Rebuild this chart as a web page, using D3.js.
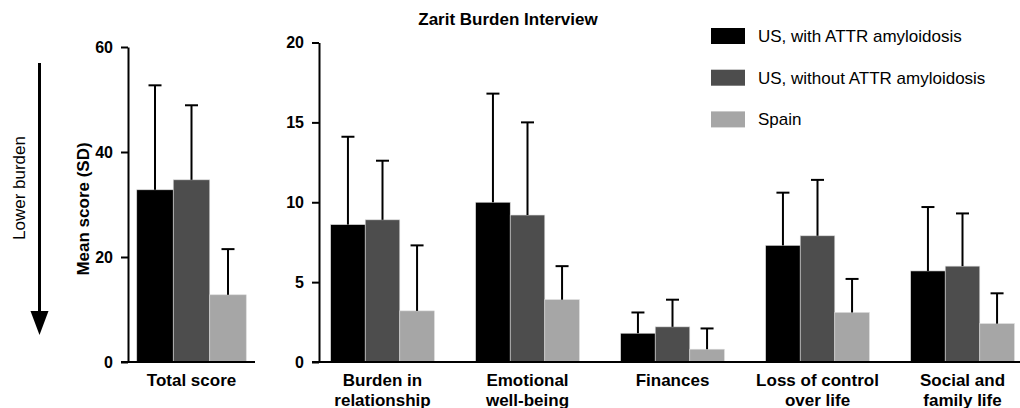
<!DOCTYPE html>
<html>
<head>
<meta charset="utf-8">
<script src="https://cdn.jsdelivr.net/npm/d3@7"></script>
<style>
  body { margin: 0; background: #fff; }
  svg { display: block; font-family: "Liberation Sans", Arial, sans-serif; }
  .tick text { font-weight: bold; font-size: 16px; fill: #000; }
</style>
</head>
<body>
<div class="chart"></div>
<script>
// series + data
var series = ["US, with ATTR amyloidosis", "US, without ATTR amyloidosis", "Spain"];
var colors = ["#000000", "#4d4d4d", "#a6a6a6"];

var totalCat = ["Total score"];
var totalMean = [[32.8], [34.7], [12.8]];
var totalSD = [[19.9], [14.2], [8.7]];

var domains = ["Burden in relationship", "Emotional well-being", "Finances", "Loss of control over life", "Social and family life"];
var domainLines = [["Burden in", "relationship"], ["Emotional", "well-being"], ["Finances"], ["Loss of control", "over life"], ["Social and", "family life"]];
var domainMean = [
  [8.6, 10.0, 1.8, 7.3, 5.7],
  [8.9, 9.2, 2.2, 7.9, 6.0],
  [3.2, 3.9, 0.8, 3.1, 2.4]
];
var domainSD = [
  [5.5, 6.8, 1.3, 3.3, 4.0],
  [3.7, 5.8, 1.7, 3.5, 3.3],
  [4.1, 2.1, 1.3, 2.1, 1.9]
];

var leftTicks = [0, 20, 40, 60];
var rightTicks = [0, 5, 10, 15, 20];

var W = 1020, H = 408;

var svg = d3.select(".chart").append("svg")
    .attr("width", W)
    .attr("height", H);

function drawPanel(cats, lines, means, sds, yMax, ticks, axisX, xRange, yRange, axisEnd) {
    var x0 = d3.scaleBand().domain(cats).range(xRange);
    if (cats.length > 1) x0.paddingInner(0.285).paddingOuter(0.1425);
    else x0.paddingOuter(0.08);
    var x1 = d3.scaleBand().domain(d3.range(series.length)).range([0, x0.bandwidth()]);
    var y = d3.scaleLinear().domain([0, yMax]).range(yRange);

    var g = svg.append("g");

    // bars
    series.forEach(function(s, si) {
        var rows = cats.map(function(c, ci) {
            return {cat: c, m: means[si][ci], sd: sds[si][ci]};
        });
        var sg = g.append("g");
        sg.selectAll("rect")
            .data(rows)
            .enter().append("rect")
            .attr("x", function(d) { return x0(d.cat) + x1(si); })
            .attr("y", function(d) { return y(d.m); })
            .attr("width", x1.bandwidth())
            .attr("height", function(d) { return y(0) - y(d.m); })
            .attr("fill", colors[si])
            .attr("stroke", "#d9d9d9")
            .attr("stroke-width", 0.6);
        // upper error bars
        sg.selectAll(".err")
            .data(rows)
            .enter().append("line")
            .attr("class", "err")
            .attr("x1", function(d) { return x0(d.cat) + x1(si) + x1.bandwidth() / 2; })
            .attr("x2", function(d) { return x0(d.cat) + x1(si) + x1.bandwidth() / 2; })
            .attr("y1", function(d) { return y(d.m); })
            .attr("y2", function(d) { return y(d.m + d.sd); })
            .attr("stroke", "#000")
            .attr("stroke-width", 2);
        sg.selectAll(".cap")
            .data(rows)
            .enter().append("line")
            .attr("class", "cap")
            .attr("x1", function(d) { return x0(d.cat) + x1(si) + x1.bandwidth() / 2 - 6.5; })
            .attr("x2", function(d) { return x0(d.cat) + x1(si) + x1.bandwidth() / 2 + 6.5; })
            .attr("y1", function(d) { return y(d.m + d.sd); })
            .attr("y2", function(d) { return y(d.m + d.sd); })
            .attr("stroke", "#000")
            .attr("stroke-width", 2);
    });

    // y axis
    var yAxis = d3.axisLeft(y).tickValues(ticks).tickSize(7).tickSizeOuter(0).tickPadding(8);
    var ya = g.append("g")
        .attr("transform", "translate(" + axisX + ",0)")
        .call(yAxis);
    ya.selectAll("line, path").attr("stroke", "#000").attr("stroke-width", 2);

    // x axis baseline
    g.append("line")
        .attr("x1", axisX - 7)
        .attr("x2", axisEnd)
        .attr("y1", y(0))
        .attr("y2", y(0))
        .attr("stroke", "#000")
        .attr("stroke-width", 2);

    // category labels
    cats.forEach(function(c, ci) {
        var t = g.append("text")
            .attr("x", x0(c) + x0.bandwidth() / 2)
            .attr("y", y(0) + 24)
            .attr("text-anchor", "middle")
            .attr("font-weight", "bold")
            .attr("font-size", "17px");
        lines[ci].forEach(function(l, li) {
            t.append("tspan")
                .attr("x", x0(c) + x0.bandwidth() / 2)
                .attr("dy", li === 0 ? 0 : 20)
                .text(l);
        });
    });
    return y;
}

drawPanel(totalCat, [["Total score"]], totalMean, totalSD, 60, leftTicks, 128, [128, 255], [362, 47], 255);
drawPanel(domains, domainLines, domainMean, domainSD, 20, rightTicks, 319, [310, 1035], [362, 42.5], 1020);

// title
svg.append("text")
    .attr("x", 508)
    .attr("y", 25)
    .attr("text-anchor", "middle")
    .attr("font-weight", "bold")
    .attr("font-size", "17px")
    .text("Zarit Burden Interview");

// y axis title
svg.append("text")
    .attr("transform", "translate(89,209) rotate(-90)")
    .attr("text-anchor", "middle")
    .attr("font-weight", "bold")
    .attr("font-size", "17px")
    .text("Mean score (SD)");

// lower burden arrow
svg.append("text")
    .attr("transform", "translate(25,188) rotate(-90)")
    .attr("text-anchor", "middle")
    .attr("font-size", "17px")
    .text("Lower burden");
svg.append("line")
    .attr("x1", 39.5).attr("x2", 39.5)
    .attr("y1", 63).attr("y2", 314)
    .attr("stroke", "#000").attr("stroke-width", 3);
svg.append("path")
    .attr("d", "M30.5,311 L48.5,311 L39.5,335 Z")
    .attr("fill", "#000");

// legend
var leg = svg.append("g").attr("transform", "translate(711,28)");
series.forEach(function(s, i) {
    var row = leg.append("g").attr("transform", "translate(0," + (i * 41.7) + ")");
    row.append("rect")
        .attr("width", 34).attr("height", 16)
        .attr("fill", colors[i]);
    row.append("text")
        .attr("x", 47)
        .attr("y", 14)
        .attr("font-size", "17px")
        .text(s);
});
</script>
</body>
</html>
